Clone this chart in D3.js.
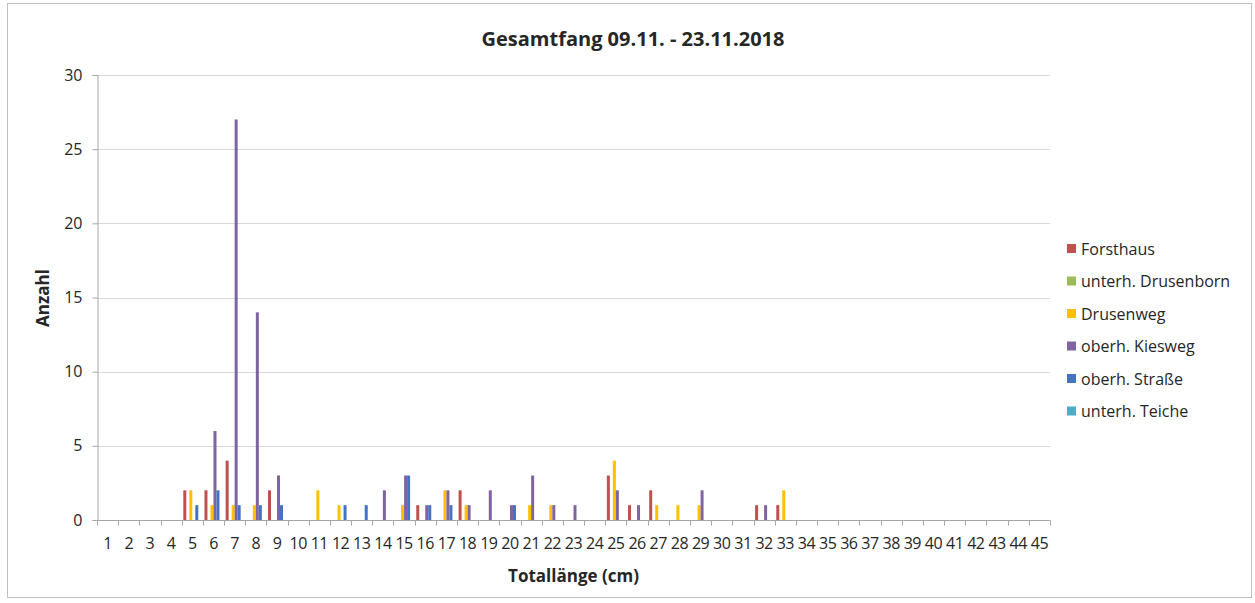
<!DOCTYPE html>
<html>
<head>
<meta charset="utf-8">
<script src="https://cdn.jsdelivr.net/npm/d3@7"></script>
<style>
  body { margin: 0; background: #fff; }
  text { font-family: "Open Sans", "Noto Sans", sans-serif; fill: #262626; }
</style>
</head>
<body>
<script>
// categories: total length in cm
const lengths = d3.range(1, 46)

const seriesNames = [
  'Forsthaus',
  'unterh. Drusenborn',
  'Drusenweg',
  'oberh. Kiesweg',
  'oberh. Straße',
  'unterh. Teiche'
]
const seriesColors = ['#C0504D', '#9BBB59', '#FFC000', '#8064A2', '#4472C4', '#4BACC6']

// counts per length, only non-zero entries (length -> count)
const forsthaus = [[5, 2], [6, 2], [7, 4], [9, 2], [16, 1], [18, 2], [25, 3], [26, 1], [27, 2], [32, 1], [33, 1]]
const drusenborn = []
const drusenweg = [[5, 2], [6, 1], [7, 1], [8, 1], [11, 2], [12, 1], [15, 1], [17, 2], [18, 1], [21, 1], [22, 1], [25, 4], [27, 1], [28, 1], [29, 1], [33, 2]]
const kiesweg = [[6, 6], [7, 27], [8, 14], [9, 3], [14, 2], [15, 3], [16, 1], [17, 2], [18, 1], [19, 2], [20, 1], [21, 3], [22, 1], [23, 1], [25, 2], [26, 1], [29, 2], [32, 1]]
const strasse = [[5, 1], [6, 2], [7, 1], [8, 1], [9, 1], [12, 1], [13, 1], [15, 3], [16, 1], [17, 1], [20, 1]]
const teiche = []

const yTicks = [0, 5, 10, 15, 20, 25, 30]

const allSeries = [forsthaus, drusenborn, drusenweg, kiesweg, strasse, teiche]

const width = 1255
const height = 603
const margin = { left: 97, right: 205, top: 75, bottom: 83 }

const svg = d3.select('body').append('svg')
  .attr('width', width)
  .attr('height', height)

// chart frame
svg.append('rect')
  .attr('x', 7.5).attr('y', 3.5)
  .attr('width', 1244).attr('height', 594)
  .attr('fill', 'none')
  .attr('stroke', '#bfbfbf')

const x0 = d3.scaleBand()
  .domain(lengths)
  .range([margin.left, width - margin.right])
  .paddingInner(0.15)
  .paddingOuter(0.075)

const x1 = d3.scaleBand()
  .domain(d3.range(seriesNames.length))
  .range([0, x0.bandwidth()])

const y = d3.scaleLinear()
  .domain([0, 30])
  .range([height - margin.bottom, margin.top])

// gridlines
svg.append('g')
  .selectAll('line')
  .data(yTicks.slice(1))
  .join('line')
  .attr('x1', margin.left)
  .attr('x2', width - margin.right)
  .attr('y1', d => Math.round(y(d)) + 0.5)
  .attr('y2', d => Math.round(y(d)) + 0.5)
  .attr('stroke', '#d9d9d9')

// y axis
const yAxis = svg.append('g')
  .attr('transform', `translate(${margin.left + 0.5},0)`)
  .call(d3.axisLeft(y).tickValues(yTicks).tickSize(5).tickPadding(10))
yAxis.select('.domain').attr('stroke', '#a6a6a6')
yAxis.selectAll('.tick line').attr('stroke', '#a6a6a6')
yAxis.selectAll('text').style('font-size', '16px').attr('fill', '#262626')

// x axis: ticks between categories
const xAxisG = svg.append('g')
  .attr('transform', `translate(0,${Math.round(y(0)) + 0.5})`)
xAxisG.append('line')
  .attr('x1', margin.left).attr('x2', width - margin.right)
  .attr('stroke', '#a6a6a6')
const step = (width - margin.right - margin.left) / lengths.length
xAxisG.selectAll('line.tk')
  .data(d3.range(lengths.length + 1))
  .join('line')
  .attr('class', 'tk')
  .attr('x1', i => Math.round(margin.left + i * step) + 0.5)
  .attr('x2', i => Math.round(margin.left + i * step) + 0.5)
  .attr('y2', 5)
  .attr('stroke', '#a6a6a6')
xAxisG.selectAll('text')
  .data(lengths)
  .join('text')
  .attr('x', d => x0(d) + x0.bandwidth() / 2)
  .attr('y', 28)
  .attr('text-anchor', 'middle')
  .style('font-size', '16px')
  .style('letter-spacing', '-0.5px')
  .text(d => d)

// bars
const groups = svg.append('g')
  .selectAll('g')
  .data(allSeries)
  .join('g')
  .attr('fill', (d, i) => seriesColors[i])

groups.each(function (s, i) {
  d3.select(this).selectAll('rect')
    .data(s)
    .join('rect')
    .attr('x', d => x0(d[0]) + x1(i))
    .attr('width', x1.bandwidth())
    .attr('y', d => y(d[1]))
    .attr('height', d => y(0) - y(d[1]))
})

// title
svg.append('text')
  .attr('x', 633)
  .attr('y', 46)
  .attr('text-anchor', 'middle')
  .style('font-size', '20px')
  .style('font-weight', 'bold')
  .attr('fill', '#000')
  .text('Gesamtfang 09.11. - 23.11.2018')

// axis titles
svg.append('text')
  .attr('transform', 'translate(49,298) rotate(-90)')
  .attr('text-anchor', 'middle')
  .style('font-size', '17px')
  .style('font-weight', 'bold')
  .attr('fill', '#000')
  .text('Anzahl')

svg.append('text')
  .attr('x', (margin.left + width - margin.right) / 2)
  .attr('y', 582)
  .attr('text-anchor', 'middle')
  .style('font-size', '17px')
  .style('font-weight', 'bold')
  .attr('fill', '#000')
  .text('Totallänge (cm)')

// legend
const legend = svg.append('g')
  .selectAll('g')
  .data(seriesNames)
  .join('g')
  .attr('transform', (d, i) => `translate(1067,${249 + i * 32.5})`)
legend.append('rect')
  .attr('y', -5).attr('width', 9).attr('height', 9)
  .attr('fill', (d, i) => seriesColors[i])
legend.append('text')
  .attr('x', 14)
  .attr('y', 5.5)
  .style('font-size', '16px')
  .text(d => d)
</script>
</body>
</html>
